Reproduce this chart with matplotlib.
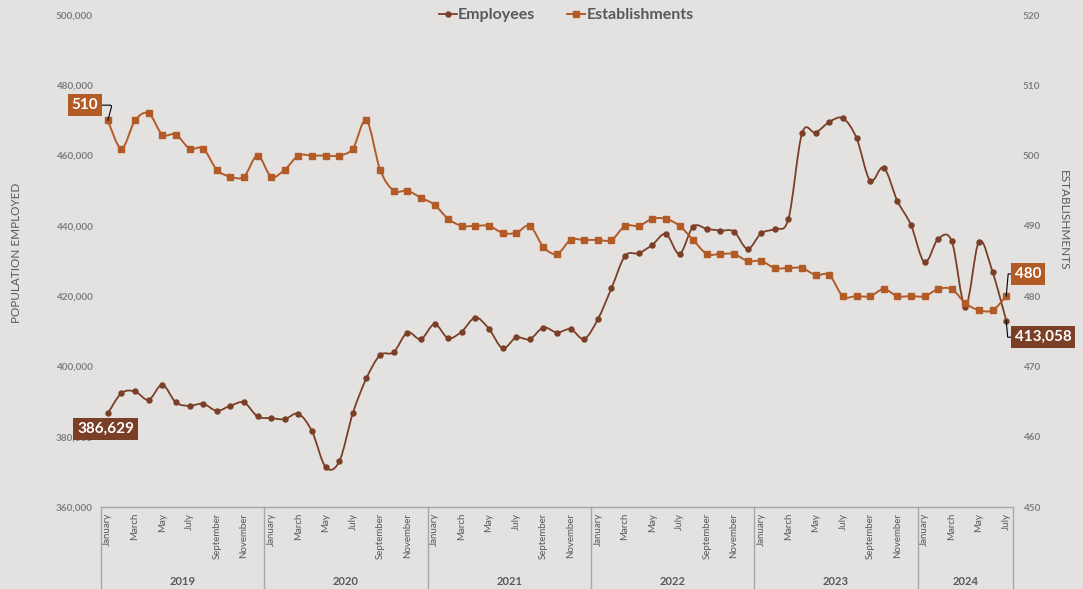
import numpy as np
import matplotlib.pyplot as plt
from matplotlib.path import Path
from matplotlib.patches import PathPatch
from matplotlib.lines import Line2D
from matplotlib.transforms import blended_transform_factory

plt.rcParams['font.family'] = ['Lato', 'DejaVu Sans']

# data, Jan 2019 .. Jul 2024
years = ['2019', '2020', '2021', '2022', '2023', '2024']
months_per_year = [12, 12, 12, 12, 12, 7]
month_names = ['January', 'February', 'March', 'April', 'May', 'June', 'July',
               'August', 'September', 'October', 'November', 'December']

employees = [
    386629, 392410, 392870, 390500, 394770, 389740, 388800, 389370, 387380, 388800, 389740, 385760,
    385300, 385010, 386530, 381500, 371370, 372960, 386720, 396660, 403220, 404070, 409650, 407760,
    412030, 408050, 409940, 413910, 410700, 405200, 408240, 407760, 411080, 409650, 410600, 407860,
    413440, 422270, 431460, 432220, 434590, 437720, 432030, 439800, 439140, 438660, 438370, 433450,
    437910, 439140, 441980, 466350, 466530, 469570, 470620, 465020, 452880, 456570, 447100, 440280,
    429670, 436300, 435640, 417040, 435550, 426820, 413058,
]
establishments = [
    505, 501, 505, 506, 503, 503, 501, 501, 498, 497, 497, 500,
    497, 498, 500, 500, 500, 500, 501, 505, 498, 495, 495, 494,
    493, 491, 490, 490, 490, 489, 489, 490, 487, 486, 488, 488,
    488, 488, 490, 490, 491, 491, 490, 488, 486, 486, 486, 485,
    485, 484, 484, 484, 483, 483, 480, 480, 480, 481, 480, 480,
    480, 481, 481, 479, 478, 478, 480,
]
first_est_label = '510'
last_est_label = '480'

BG = '#e4e2e1'
EMP_C = '#7a3f26'
EST_C = '#b35b27'
TXT = '#7f7f7f'
DARK = '#595959'


def smooth_path(xs, ys):
    # catmull-rom through the points, as cubic bezier segments
    p = np.column_stack([xs, ys]).astype(float)
    n = len(p)
    verts = [p[0]]
    codes = [Path.MOVETO]
    for i in range(n - 1):
        p0 = p[i - 1] if i > 0 else p[i]
        p1, p2 = p[i], p[i + 1]
        p3 = p[i + 2] if i + 2 < n else p[i + 1]
        c1 = p1 + (p2 - p0) / 6.0
        c2 = p2 - (p3 - p1) / 6.0
        verts += [c1, c2, p2]
        codes += [Path.CURVE4] * 3
    return Path(verts, codes)


x = np.arange(len(employees))
emp = np.array(employees)
est = np.array(establishments)

fig = plt.figure(figsize=(10.83, 5.89), dpi=100, facecolor=BG)
ax = fig.add_axes([0.0933, 0.1392, 0.8421, 0.8353])
ax.set_facecolor(BG)
ax2 = ax.twinx()

ax.set_xlim(-0.5, len(x) - 0.5)
ax.set_ylim(360000, 500000)
ax2.set_ylim(450, 520)

ax.add_patch(PathPatch(smooth_path(x, emp), fill=False, edgecolor=EMP_C, lw=1.3, zorder=3))
ax.plot(x, emp, ls='none', marker='o', ms=3.6, color=EMP_C, zorder=4)
ax2.add_patch(PathPatch(smooth_path(x, est), fill=False, edgecolor=EST_C, lw=1.4, zorder=3))
ax2.plot(x, est, ls='none', marker='s', ms=5, color=EST_C, zorder=4)

# ticks
yt = np.arange(360000, 500001, 20000)
ax.set_yticks(yt)
ax.set_yticklabels([f'{v:,}' for v in yt])
ax2.set_yticks(np.arange(450, 521, 10))
for a in (ax, ax2):
    a.tick_params(axis='y', length=0, labelsize=7.2, labelcolor=TXT)
    for s in a.spines.values():
        s.set_visible(False)
ax.tick_params(axis='y', pad=6)
ax2.tick_params(axis='y', pad=7)
for lab in ax.get_yticklabels() + ax2.get_yticklabels():
    lab.set_fontweight('bold')
ax.set_xticks([])

fig.text(17 / 1083, 1 - 253 / 589, 'POPULATION EMPLOYED', rotation=90, ha='center',
         va='center', fontsize=8.5, color=DARK)
fig.text(1063 / 1083, 1 - 220 / 589, 'ESTABLISHMENTS', rotation=-90, ha='center',
         va='center', fontsize=8.5, color=DARK)

# category axis: months + years
tr = blended_transform_factory(ax.transData, ax.transAxes)
ax.plot([-0.5, len(x) - 0.5], [0, 0], transform=tr, color='#a6a6a6', lw=1, clip_on=False)
start = 0
bounds = [-0.5]
for yr, cnt in zip(years, months_per_year):
    for m in range(0, cnt, 2):
        ax.text(start + m, -0.012, month_names[m], transform=tr, rotation=90,
                ha='center', va='top', fontsize=7, color=DARK)
    ax.text(start + (cnt - 1) / 2, -0.152, yr, transform=tr, ha='center',
            va='center', fontsize=8, color=DARK, fontweight='bold')
    start += cnt
    bounds.append(start - 0.5)
for b in bounds:
    ax.plot([b, b], [0, -0.2], transform=tr, color='#a6a6a6', lw=1, clip_on=False)

# data labels
box = dict(boxstyle='square,pad=0.25', lw=0)
ax2.annotate(first_est_label, xy=(0, est[0]), xytext=(-7, 11), textcoords='offset points',
             ha='right', va='center', fontsize=11, fontweight='bold', color='white',
             bbox=dict(box, fc=EST_C), zorder=6,
             arrowprops=dict(arrowstyle='-', color='black', lw=0.8,
                             connectionstyle='angle,angleA=0,angleB=75,rad=2',
                             shrinkA=0, shrinkB=0))
ax.annotate(f'{employees[0]:,}', xy=(0, emp[0]), xytext=(-22, -11), textcoords='offset points',
            ha='left', va='center', fontsize=11, fontweight='bold', color='white',
            bbox=dict(box, fc=EMP_C), zorder=6)
ax2.annotate(last_est_label, xy=(x[-1], est[-1]), xytext=(6, 16), textcoords='offset points',
             ha='left', va='center', fontsize=11, fontweight='bold', color='white',
             bbox=dict(box, fc=EST_C), zorder=6,
             arrowprops=dict(arrowstyle='-', color='black', lw=0.8,
                             connectionstyle='angle,angleA=0,angleB=85,rad=0',
                             shrinkA=0, shrinkB=0))
ax.annotate(f'{employees[-1]:,}', xy=(x[-1], emp[-1]), xytext=(6, -12), textcoords='offset points',
            ha='left', va='center', fontsize=11, fontweight='bold', color='white',
            bbox=dict(box, fc=EMP_C), zorder=6,
            arrowprops=dict(arrowstyle='-', color='black', lw=0.8,
                            connectionstyle='angle,angleA=0,angleB=-85,rad=0',
                            shrinkA=0, shrinkB=0))

handles = [
    Line2D([], [], color=EMP_C, marker='o', ms=3.6, lw=1.3),
    Line2D([], [], color=EST_C, marker='s', ms=5, lw=1.4),
]
leg = fig.legend(handles, ['Employees', 'Establishments'], loc='center', ncol=2,
                 bbox_to_anchor=(0.523, 0.974), frameon=False,
                 prop={'size': 11.5, 'weight': 'bold'},
                 labelcolor=DARK, handlelength=1.1, handletextpad=0.1,
                 columnspacing=2.0)

fig.savefig('out.png', dpi=100, facecolor=BG)
